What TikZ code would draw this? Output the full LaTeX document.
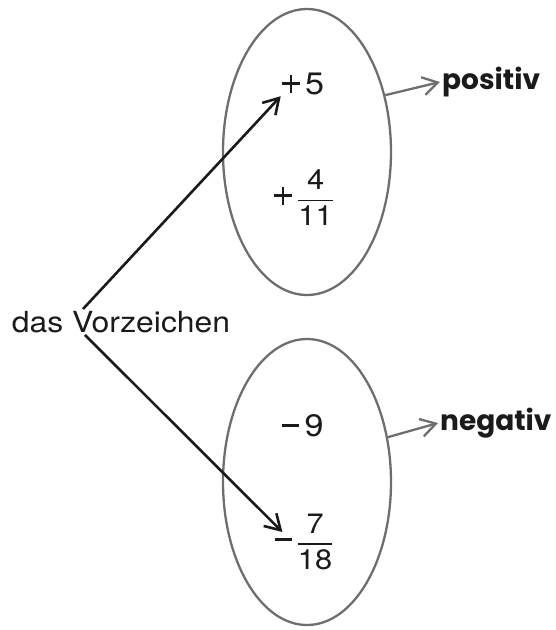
\documentclass[tikz,border=0pt]{standalone}
\usepackage{amsmath}
\usepackage{fontspec}
\setmainfont{TeX Gyre Heros}[FakeStretch=1.1]
\newfontfamily\tagfont{Poppins}
\usetikzlibrary{arrows.meta,shapes.geometric}
\definecolor{ringgray}{HTML}{6E6E6E}
\definecolor{ink}{HTML}{1A1A1A}
\newcommand{\ziffer}[1]{\mbox{\fontsize{28}{32}\selectfont #1}}
\newcommand{\bruch}[2]{$\genfrac{}{}{1.6pt}{0}{\ziffer{#1}}{\ziffer{#2}}$}
\newcommand{\minus}{\rule[9.6pt]{17pt}{2.8pt}}
\newcommand{\plus}{\ooalign{\rule[9.6pt]{18pt}{2.8pt}\cr
  \hfil\rule[2pt]{2.8pt}{18pt}\hfil\cr}}
\newcommand{\mitte}[1]{$\vcenter{\hbox{#1}}$}

\begin{document}
\begin{tikzpicture}[
    x=1pt, y=-1pt,
    font=\fontsize{29}{33}\selectfont,
    ring/.style={draw=ringgray, line width=2.3pt, ellipse, inner sep=0pt,
                 minimum width=168, minimum height=286},
    num/.style={inner sep=1pt, text=ink, font=\fontsize{31}{35}\selectfont},
    word/.style={inner sep=2pt, text=ink, font=\fontsize{29}{33}\selectfont},
    tag/.style={font=\tagfont\bfseries\fontsize{28}{32}\selectfont,
                inner sep=2pt, text=ink, anchor=west},
    flow/.style={-{Straight Barb[length=15pt,width=18pt]}, line width=2.6pt,
                 draw=ink},
    hint/.style={flow, line width=2.3pt, draw=ringgray},
  ]
  \useasboundingbox (0,0) rectangle (555,630);
  \node[ring] (pos) at (307,152) {};
  \node[ring] (neg) at (307,482) {};
  \node[num] (five) at (303,84) {\plus\,5};
  \node[num] (fourth) at (304,198) {\mitte{\plus}\,\bruch{4}{11}};
  \node[num] (nine) at (303,426) {\minus\,9};
  \node[num] (seventh) at (304,542) {\mitte{\minus}\,\bruch{7}{18}};
  \node[word] (sign) at (121,322) {das Vorzeichen};
  \node[tag] (positive) at (440,82) {positiv};
  \node[tag] (negative) at (438,423) {negativ};

  % the sign points at the numbers
  \draw[flow] ([xshift=-38pt]sign.north) -- (five.south west);
  \draw[flow] ([xshift=-36pt]sign.south) -- ([xshift=9pt,yshift=10pt]seventh.west);
  % set to the word
  \draw[hint] (pos.36) -- (positive.west);
  \draw[hint] (neg.29) -- (negative.west);
\end{tikzpicture}
\end{document}
